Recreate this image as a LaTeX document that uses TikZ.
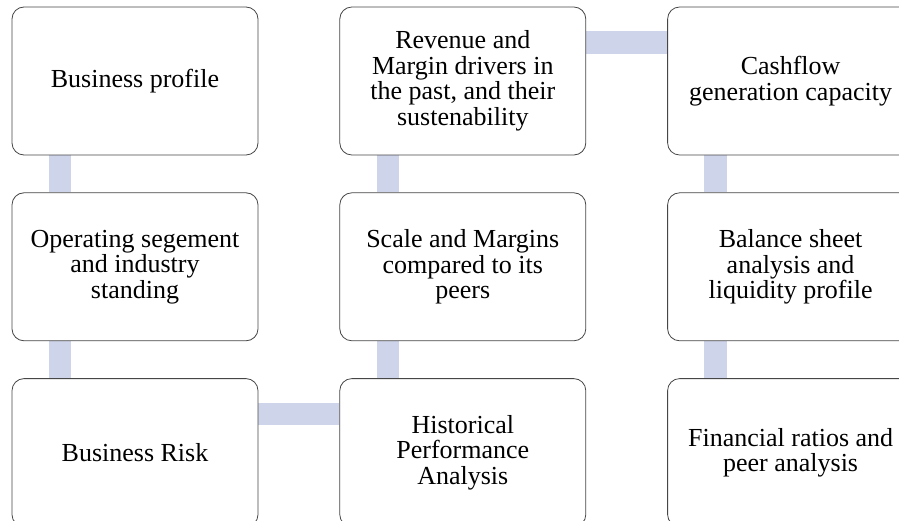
\documentclass[tikz,border=0pt]{standalone}
\usepackage{fontspec}
\setmainfont{Liberation Serif}
\usetikzlibrary{positioning,backgrounds}
\definecolor{barblue}{RGB}{206,212,233}
\definecolor{edgegrey}{RGB}{70,70,70}
\tikzset{
  stage/.style ={rectangle,rounded corners=12pt,draw=edgegrey,line width=0.8pt,
                 fill=white,minimum width=246pt,minimum height=148pt,
                 inner sep=0pt,align=center,
                 font=\fontsize{26}{25.5}\selectfont},
  link/.style  ={draw=barblue,line width=22.5pt,line cap=butt},
}

\begin{document}
\begin{tikzpicture}[
    node distance=37pt and 81pt
]
\clip (0pt,0pt) rectangle (899pt,520pt);

% Nodes, column by column
\node[stage] (profile) at (135pt,439pt) {Business profile};
\node[stage] (segment) [below=of profile] {Operating segement\\and industry\\standing};
\node[stage] (risk) [below=of segment] {Business Risk};

\node[stage] (drivers) [right=of profile] {Revenue and\\Margin drivers in\\the past, and their\\sustenability};
\node[stage] (scale) [right=of segment] {Scale and Margins\\compared to its\\peers};
\node[stage] (history) [right=of risk] {Historical\\Performance\\Analysis};

\node[stage] (cashflow) [right=of drivers] {Cashflow\\generation capacity};
\node[stage] (balance) [right=of scale] {Balance sheet\\analysis and\\liquidity profile};
\node[stage] (ratios) [right=of history] {Financial ratios and\\peer analysis};

% Bars behind the boxes
\begin{scope}[on background layer]
\draw[link] ([xshift=48.5pt]profile.south west) -- ([xshift=48.5pt]segment.north west);
\draw[link] ([xshift=48.5pt]segment.south west) -- ([xshift=48.5pt]risk.north west);
\draw[link] ([yshift=-36pt]risk.north east) -- ([yshift=-36pt]history.north west);
\draw[link] ([xshift=48.5pt]history.north west) -- ([xshift=48.5pt]scale.south west);
\draw[link] ([xshift=48.5pt]scale.north west) -- ([xshift=48.5pt]drivers.south west);
\draw[link] ([yshift=-36pt]drivers.north east) -- ([yshift=-36pt]cashflow.north west);
\draw[link] ([xshift=48.5pt]cashflow.south west) -- ([xshift=48.5pt]balance.north west);
\draw[link] ([xshift=48.5pt]balance.south west) -- ([xshift=48.5pt]ratios.north west);
\end{scope}

\end{tikzpicture}
\end{document}
